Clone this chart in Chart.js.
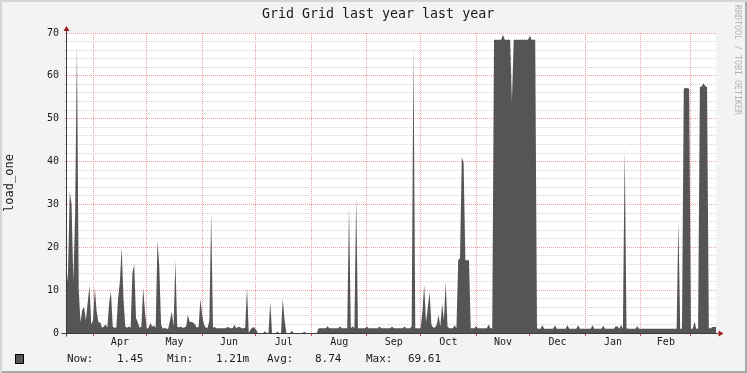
<!DOCTYPE html>
<html>
<head>
<meta charset="utf-8">
<script src="https://cdn.jsdelivr.net/npm/chart.js@4.4.0/dist/chart.umd.min.js"></script>
<style>
  body { margin: 0; background: #f3f3f3; }
  #wrap { position: relative; width: 747px; height: 373px; background: #f3f3f3; overflow: hidden;
          box-shadow: inset 2px 2px 0 #d4d4d4, inset -2px -2px 0 #a8a8a8; }
  #grafico { position: absolute; left: 0; top: 0; }
  .txt { position: absolute; font-family: "DejaVu Sans Mono", monospace; color: #1a1a1a; white-space: pre; }
  #titulo { left: 262px; top: 6px; font-size: 13.3px; line-height: 16px; }
  .ley { top: 352px; font-size: 11px; line-height: 13px; }
  #cuadro { position: absolute; left: 15px; top: 354px; width: 7px; height: 8px; background: #555555; border: 1px solid #000; }
  #marca { left: 733px; top: 5px; font-size: 8.3px; line-height: 10px; color: #b4b4b4; writing-mode: vertical-rl; }
</style>
</head>
<body>
<div id="wrap">
  <canvas id="grafico" width="747" height="373"></canvas>
  <div class="txt" id="titulo">Grid Grid last year last year</div>
  <div class="txt" id="marca">RRDTOOL / TOBI OETIKER</div>
  <div id="cuadro"></div>
  <div class="txt ley" style="left:67px">Now:</div>
  <div class="txt ley" style="left:117px">1.45</div>
  <div class="txt ley" style="left:167px">Min:</div>
  <div class="txt ley" style="left:216px">1.21m</div>
  <div class="txt ley" style="left:267px">Avg:</div>
  <div class="txt ley" style="left:315px">8.74</div>
  <div class="txt ley" style="left:366px">Max:</div>
  <div class="txt ley" style="left:408px">69.61</div>
</div>
<script>
// dias contados desde el 1 de abril; la serie empieza el 17 de marzo
const primerDia = -15;
const diaMin = -14.55;
const diaMax = 348;

// load_one, un valor por dia
const load = [
  10, 14, 33, 30, 12, 28, 67, 10, 2.5, 5.5,
  6, 3, 7, 11, 2, 3, 10.5, 5, 2.5, 2.5,
  1.2, 1.5, 2, 1.3, 7, 9.6, 1.5, 1.2, 1.3, 8,
  12, 20, 8, 1.5, 1.2, 1.5, 1.2, 14, 16, 3.5,
  2.5, 1.2, 1.5, 10.5, 5, 1, 1.2, 2.3, 1.5, 1.7,
  1.2, 21.5, 15.5, 2, 1, 1.2, 1, 1, 3, 5,
  1.5, 17, 1.5, 1.3, 1.5, 1.2, 1.3, 1.5, 4.2, 2.5,
  2.6, 2.4, 2, 1.2, 1.5, 8, 4, 2, 1.2, 1.2,
  3, 28, 1.2, 1.4, 1.1, 1.1, 1.1, 1.1, 1.1, 1.1,
  1.4, 1.3, 1.1, 1.1, 1.9, 1.1, 1.4, 1.4, 1.1, 1.1,
  1.2, 10.5, 0, 0.9, 1.3, 1.3, 0.9, 0, 0, 0,
  0, 0.4, 0, 0, 7.2, 0, 0, 0, 0.3, 0,
  0, 8, 3, 0, 0, 0, 0.5, 0, 0, 0,
  0, 0, 0, 0.3, 0, 0, 0, 0, 0, 0,
  0, 1.1, 1.1, 1.1, 1.1, 1.1, 1.6, 1.1, 1.1, 1.1,
  1.1, 1.1, 1.1, 1.6, 1.1, 1.1, 1.1, 1.1, 29.5, 1.1,
  1.6, 1.1, 31.8, 1.1, 1.1, 1.1, 1.1, 1.1, 1.5, 1.1,
  1.1, 1.1, 1.1, 1.1, 1.1, 1.5, 1.1, 1.1, 1.1, 1.1,
  1.1, 1.1, 1.5, 1.1, 1.1, 1.1, 1.1, 1.1, 1.1, 1.5,
  1.1, 1.1, 1.1, 1.5, 66.8, 1.1, 1.1, 1.1, 1.1, 5,
  11.2, 2.5, 5.8, 9.6, 2, 1.3, 1.3, 2, 4.2, 1.5,
  6.9, 3, 12, 1.5, 1.1, 1.1, 1.1, 1.8, 1.1, 17,
  17.5, 41, 39.7, 17, 17, 17, 1.1, 1.1, 1.1, 1.6,
  1.1, 1.1, 1.1, 1.1, 1.1, 1.1, 2, 1.1, 1.1, 68.4,
  68.4, 68.4, 68.4, 68.4, 69.6, 68.4, 68.4, 68.4, 68.4, 54,
  68.4, 68.4, 68.4, 68.4, 68.4, 68.4, 68.4, 68.4, 68.4, 69.3,
  68.4, 68.4, 68.4, 1.1, 1, 1, 1.8, 1, 1, 1,
  1, 1, 1, 1.8, 1, 1, 1, 1, 1, 1,
  1.8, 1, 1, 1, 1, 1, 1.8, 1, 1, 1,
  1, 1, 1, 1, 1.8, 1, 1, 1, 1, 1,
  1.7, 1, 1, 1, 1, 1, 1, 1.6, 1.5, 1,
  1.9, 1, 43, 1.1, 1, 1, 1, 1, 1, 1.6,
  1, 1, 1, 1, 1, 1, 1, 1, 1, 1,
  1, 1, 1, 1, 1, 1, 1, 1, 1, 1,
  1, 1, 26, 1, 1, 57, 57.2, 57.1, 57, 1,
  1, 2.6, 1, 1, 57.4, 57.5, 58.3, 57.6, 57.4, 1.1,
  1.1, 1.4, 1.4, 1.45
];

// inicio de cada mes (abr .. mar) y nombres
const inicioMes = [0, 30, 61, 91, 122, 153, 183, 214, 244, 275, 306, 334];
const meses = ["Apr", "May", "Jun", "Jul", "Aug", "Sep", "Oct", "Nov", "Dec", "Jan", "Feb"];

const yMax = 70;
const yPaso = 2;
const yMayor = 10;

const rojo = "#f0a0a0";
const gris = "#d2d2d2";

const etiquetas = new Map();
meses.forEach((m, i) => etiquetas.set((inicioMes[i] + inicioMes[i + 1]) / 2, m));
const ticksX = inicioMes.concat(Array.from(etiquetas.keys())).sort((a, b) => a - b);

const ejes = {
  id: "ejes",
  beforeDraw(chart) {
    const { ctx, chartArea: a } = chart;
    ctx.save();
    ctx.fillStyle = "#ffffff";
    ctx.fillRect(a.left, a.top, a.right - a.left, a.bottom - a.top);
    ctx.restore();
  },
  afterDatasetsDraw(chart) {
    const { ctx, chartArea: a } = chart;
    const x0 = a.left - 0.5;
    const y0 = chart.scales.y.getPixelForValue(0) + 0.5;
    ctx.save();
    ctx.strokeStyle = "#3c3c3c";
    ctx.lineWidth = 1;
    ctx.beginPath();
    ctx.moveTo(x0, y0 + 3);
    ctx.lineTo(x0, a.top - 2);
    ctx.moveTo(x0 - 5, y0);
    ctx.lineTo(a.right + 2, y0);
    ctx.stroke();
    ctx.fillStyle = "#a01818";
    ctx.beginPath();
    ctx.moveTo(x0, a.top - 7);
    ctx.lineTo(x0 - 3, a.top - 2);
    ctx.lineTo(x0 + 3, a.top - 2);
    ctx.closePath();
    ctx.fill();
    ctx.beginPath();
    ctx.moveTo(a.right + 7.5, y0);
    ctx.lineTo(a.right + 2.5, y0 - 3);
    ctx.lineTo(a.right + 2.5, y0 + 3);
    ctx.closePath();
    ctx.fill();
    ctx.restore();
  }
};

Chart.defaults.font.family = "'DejaVu Sans Mono', monospace";
Chart.defaults.color = "#1a1a1a";

new Chart(document.getElementById("grafico"), {
  type: "line",
  data: {
    datasets: [{
      label: "load_one",
      data: load.map((v, k) => ({ x: primerDia + k, y: v })),
      fill: "origin",
      backgroundColor: "#555555",
      borderColor: "rgba(0,0,0,0)",
      borderWidth: 0,
      pointRadius: 0,
      tension: 0
    }]
  },
  options: {
    responsive: false,
    animation: false,
    devicePixelRatio: 1,
    layout: { padding: { top: 33, right: 31, bottom: 0, left: 0 } },
    plugins: { legend: { display: false }, tooltip: { enabled: false } },
    scales: {
      x: {
        type: "linear",
        min: diaMin,
        max: diaMax,
        afterBuildTicks: (s) => { s.ticks = ticksX.map(v => ({ value: v })); },
        afterFit: (s) => { s.height = 40; },
        ticks: {
          autoSkip: false, maxRotation: 0, minRotation: 0, padding: 0,
          font: { size: 10 },
          callback: (v) => etiquetas.get(v) || ""
        },
        grid: {
          color: (c) => inicioMes.includes(c.tick && c.tick.value) ? rojo : "rgba(0,0,0,0)",
          tickColor: (c) => inicioMes.includes(c.tick && c.tick.value) ? "#d04040" : "rgba(0,0,0,0)",
          tickLength: 3
        },
        border: { display: false, dash: [1, 1] }
      },
      y: {
        min: 0,
        max: yMax,
        afterFit: (s) => { s.width = 67; },
        ticks: {
          stepSize: yPaso, maxTicksLimit: 100, autoSkip: false, padding: 6,
          font: { size: 10 },
          callback: (v) => v % yMayor === 0 ? v : ""
        },
        grid: {
          color: (c) => c.tick && c.tick.value % yMayor === 0 ? rojo : gris,
          tickColor: (c) => c.tick && c.tick.value % yMayor === 0 ? rojo : gris,
          tickLength: 2
        },
        border: { display: false, dash: [1, 1] },
        title: { display: true, text: "load_one", font: { size: 12 }, padding: { top: 3, bottom: 0 } }
      }
    }
  },
  plugins: [ejes]
});
</script>
</body>
</html>
